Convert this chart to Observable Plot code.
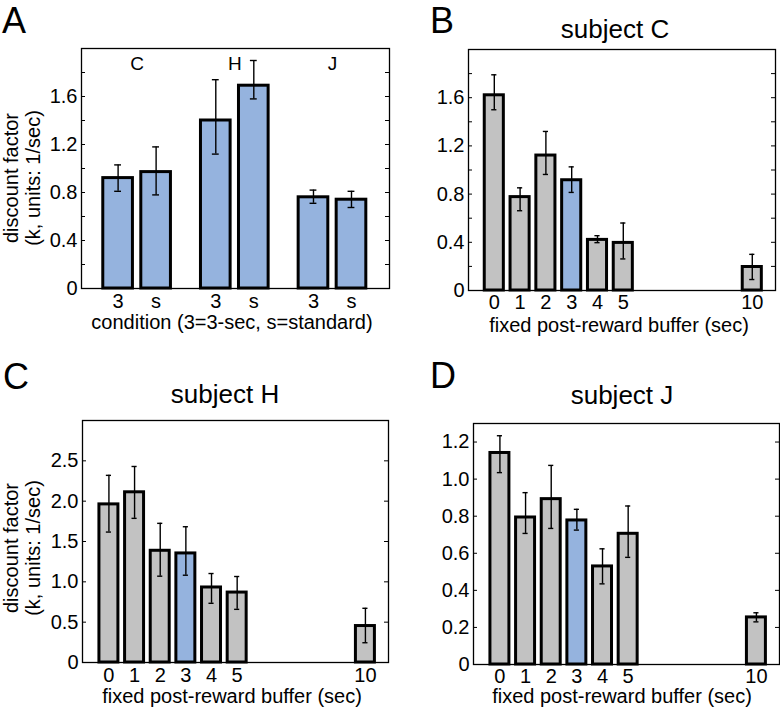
<!DOCTYPE html>
<html><head><meta charset="utf-8">
<script src="https://cdn.jsdelivr.net/npm/d3@7"></script>
<script src="https://cdn.jsdelivr.net/npm/@observablehq/plot@0.6"></script>
<style>
body{margin:0;background:#fff;}
#fig{position:relative;width:780px;height:712px;overflow:hidden;font-family:"Liberation Sans",Arial,Helvetica,sans-serif;color:#000;background:#fff;}
.t{position:absolute;white-space:nowrap;line-height:1;}
</style></head><body><div id="fig"></div>
<script>
// ---------- data ----------
const subjectsA = ["C", "H", "J"];
const conditionsA = ["3", "s"];
const kA   = [[0.92, 0.97], [1.40, 1.69], [0.76, 0.74]];
const kAlo = [[0.81, 0.78], [1.12, 1.58], [0.71, 0.675]];
const kAhi = [[1.03, 1.18], [1.74, 1.90], [0.82, 0.81]];

const buffers = [0, 1, 2, 3, 4, 5, 10];
const standardBuffer = 3;
const kC   = [1.62, 0.775, 1.12, 0.915, 0.42, 0.395, 0.195];
const kClo = [1.50, 0.662, 0.963, 0.814, 0.397, 0.262, 0.091];
const kChi = [1.79, 0.852, 1.32, 1.026, 0.455, 0.56, 0.30];
const kH   = [1.96, 2.11, 1.385, 1.352, 0.93, 0.867, 0.452];
const kHlo = [1.617, 1.787, 1.07, 1.082, 0.734, 0.659, 0.245];
const kHhi = [2.32, 2.43, 1.725, 1.683, 1.103, 1.066, 0.672];
const kJ   = [1.141, 0.793, 0.892, 0.777, 0.529, 0.705, 0.254];
const kJlo = [1.035, 0.707, 0.734, 0.725, 0.435, 0.578, 0.230];
const kJhi = [1.234, 0.927, 1.074, 0.837, 0.624, 0.855, 0.279];

const yLabelsAB = [0, 0.4, 0.8, 1.2, 1.6];
const yMinorAB  = [0.2, 0.4, 0.6, 0.8, 1.0, 1.2, 1.4, 1.6, 1.8];
const yLabelsC  = [0, 0.5, 1.0, 1.5, 2.0, 2.5];
const yMinorC   = [0.5, 1.0, 1.5, 2.0, 2.5];
const yLabelsD  = [0, 0.2, 0.4, 0.6, 0.8, 1.0, 1.2];
const yMinorD   = [0.2, 0.4, 0.6, 0.8, 1.0, 1.2];

// ---------- style ----------
const BLUE = "#95b3de", GRAY = "#c2c2c2";
const FONT = '"Liberation Sans", Arial, Helvetica, sans-serif';
const TICK = 20;
const fig = document.getElementById("fig");
const fmt = d => d === 0 ? "0" : d.toFixed(1);

function place(svg, left, top) {
  svg.style.position = "absolute";
  svg.style.left = left + "px";
  svg.style.top = top + "px";
  fig.appendChild(svg);
}
function txt(s, x, baseline, size, align = "center") {
  const d = document.createElement("div");
  d.className = "t";
  d.textContent = s;
  d.style.fontSize = size + "px";
  d.style.top = (baseline - 0.8465 * size) + "px";
  d.style.left = x + "px";
  if (align === "center") d.style.transform = "translateX(-50%)";
  fig.appendChild(d);
}
function vtxt(s, baselineX, cy, size) {
  const d = document.createElement("div");
  d.className = "t";
  d.textContent = s;
  d.style.fontSize = size + "px";
  d.style.left = (baselineX - 0.3465 * size) + "px";
  d.style.top = cy + "px";
  d.style.transform = "translate(-50%,-50%) rotate(-90deg)";
  fig.appendChild(d);
}

function panel(o) {
  const fw = o.width - o.ml - o.mr;
  const marks = [
    Plot.tickY(o.yMinor, {y: d => d, insetRight: fw - 4, stroke: "black", strokeWidth: 1}),
    Plot.tickY(o.yMinor, {y: d => d, insetLeft: fw - 4, stroke: "black", strokeWidth: 1}),
    Plot.rect(o.data, {x1: d => d.x - o.hw, x2: d => d.x + o.hw, y1: 0, y2: "k",
      fill: "color", stroke: "black", strokeWidth: 3}),
    Plot.ruleX(o.data, {x: "x", y1: "lo", y2: "hi", stroke: "black", strokeWidth: 1.4}),
    Plot.ruleY(o.data, {y: "hi", x1: d => d.x - o.cw, x2: d => d.x + o.cw, stroke: "black", strokeWidth: 1.4}),
    Plot.ruleY(o.data, {y: "lo", x1: d => d.x - o.cw, x2: d => d.x + o.cw, stroke: "black", strokeWidth: 1.4}),
    Plot.frame({stroke: "black", strokeWidth: 1.3}),
    Plot.axisY(o.yLabels, {tickSize: 0, tickPadding: 4, tickFormat: fmt, label: null, fontSize: TICK}),
    ...(o.extra || [])
  ];
  const svg = Plot.plot({
    width: o.width, height: o.height,
    marginLeft: o.ml, marginRight: o.mr, marginTop: o.mt, marginBottom: o.mb,
    x: {domain: o.xDomain, axis: null},
    y: {domain: o.yDomain, axis: null},
    color: {type: "identity"},
    style: {fontFamily: FONT, fontSize: TICK + "px", background: "transparent", overflow: "visible", color: "black"},
    marks
  });
  place(svg, o.left, o.top);
}

// ---------- panel A ----------
const groupGap = 2.57;
const dataA = [];
subjectsA.forEach((s, g) => conditionsA.forEach((c, j) => dataA.push({
  subject: s, cond: c, x: g * groupGap + j, k: kA[g][j], lo: kAlo[g][j], hi: kAhi[g][j], color: BLUE
})));
panel({
  data: dataA, left: 0, top: 0, width: 390, height: 345, ml: 81, mr: 1, mt: 48, mb: 57,
  xDomain: [-0.963, 7.14], yDomain: [0, 2], yLabels: yLabelsAB, yMinor: yMinorAB, hw: 0.39, cw: 0.09,
  extra: [
    Plot.text(dataA, {x: "x", text: "cond", frameAnchor: "bottom", lineAnchor: "top", dy: 5, fontSize: TICK}),
    Plot.text(subjectsA, {x: (d, i) => i * groupGap + 0.5, text: d => d, frameAnchor: "top", dy: 7.5, fontSize: 19})
  ]
});

// ---------- panels B, C, D ----------
function subjectData(k, lo, hi) {
  return buffers.map((b, i) => ({buffer: b, x: b, k: k[i], lo: lo[i], hi: hi[i],
    color: b === standardBuffer ? BLUE : GRAY}));
}
const xAxisBuf = pad => Plot.axisX(buffers, {tickSize: 0, tickPadding: pad, label: null, fontSize: TICK});

panel({
  data: subjectData(kC, kClo, kChi), left: 390, top: 0, width: 390, height: 345, ml: 78, mr: 5, mt: 49, mb: 55,
  xDomain: [-1, 10.9], yDomain: [0, 2], yLabels: yLabelsAB, yMinor: yMinorAB, hw: 0.37, cw: 0.1,
  extra: [xAxisBuf(4)]
});
panel({
  data: subjectData(kH, kHlo, kHhi), left: 0, top: 356, width: 390, height: 356, ml: 82, mr: 2, mt: 64, mb: 50,
  xDomain: [-1.03, 10.9], yDomain: [0, 3], yLabels: yLabelsC, yMinor: yMinorC, hw: 0.37, cw: 0.1,
  extra: [xAxisBuf(5)]
});
panel({
  data: subjectData(kJ, kJlo, kJhi), left: 390, top: 356, width: 390, height: 356, ml: 83, mr: 1, mt: 67, mb: 48,
  xDomain: [-1.03, 10.9], yDomain: [0, 1.3], yLabels: yLabelsD, yMinor: yMinorD, hw: 0.37, cw: 0.1,
  extra: [xAxisBuf(4)]
});

// ---------- text ----------
txt("A", 2, 33, 36, "left");
txt("B", 430, 33, 36, "left");
txt("C", 3, 389, 36, "left");
txt("D", 430, 388, 36, "left");

txt("subject C", 615, 38, 26);
txt("subject H", 225, 402.7, 26);
txt("subject J", 622, 403.7, 26);

txt("condition (3=3-sec, s=standard)", 232, 329, 20);
txt("fixed post-reward buffer (sec)", 619, 332, 20);
txt("fixed post-reward buffer (sec)", 232, 703, 20);
txt("fixed post-reward buffer (sec)", 622, 703, 20);

vtxt("discount factor", 17.5, 178, 20);
vtxt("(k, units: 1/sec)", 40, 178, 20);
vtxt("discount factor", 17.5, 548, 20);
vtxt("(k, units: 1/sec)", 40, 548, 20);
</script></body></html>
